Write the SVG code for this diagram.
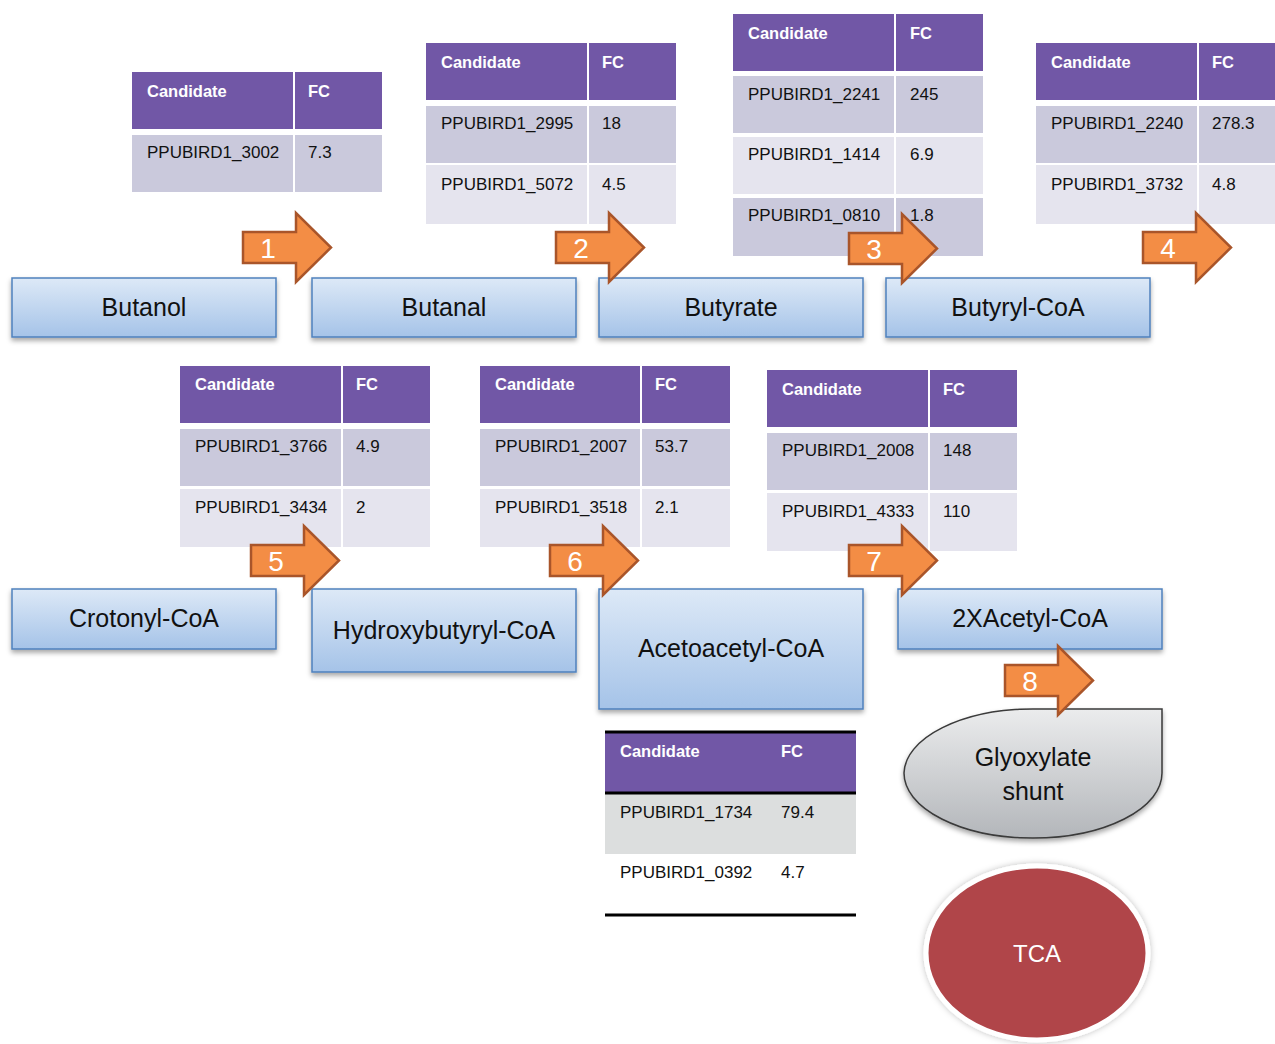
<svg xmlns="http://www.w3.org/2000/svg" width="1275" height="1044" viewBox="0 0 1275 1044">
<defs>
<linearGradient id="blue" x1="0" y1="0" x2="0" y2="1"><stop offset="0" stop-color="#DDE9F7"/><stop offset="1" stop-color="#A5C3E8"/></linearGradient>
<linearGradient id="gray" x1="0" y1="0" x2="0" y2="1"><stop offset="0" stop-color="#EBECED"/><stop offset="1" stop-color="#B3B6BA"/></linearGradient>
<filter id="sh" x="-10%" y="-10%" width="120%" height="140%"><feDropShadow dx="0" dy="3" stdDeviation="2.5" flood-color="#000" flood-opacity="0.35"/></filter>
<filter id="glow" x="-10%" y="-10%" width="120%" height="120%"><feDropShadow dx="0" dy="0" stdDeviation="3" flood-color="#000" flood-opacity="0.25"/></filter>
<path id="arr" d="M0 19 H53 V0 L88 34.5 L53 69 V50 H0 Z"/>
</defs>
<style>
.hd{fill:#7157A6}
.r1{fill:#CAC9DC}
.r2{fill:#E5E4EE}
.th{font-family:"Liberation Sans",Arial,sans-serif;font-size:16.5px;font-weight:bold;fill:#FFFFFF}
.td{font-family:"Liberation Sans",Arial,sans-serif;font-size:17px;fill:#111111}
.box{fill:url(#blue);stroke:#4F81BD;stroke-width:1.5;filter:url(#sh)}
.lbl{font-family:"Liberation Sans",Arial,sans-serif;font-size:25px;fill:#111111;text-anchor:middle}
.ar{fill:#F38D45;stroke:#A9552A;stroke-width:2.5;stroke-linejoin:miter}
.num{font-family:"Liberation Sans",Arial,sans-serif;font-size:28px;fill:#FFFFFF;text-anchor:middle}
</style>
<rect width="1275" height="1044" fill="#FFFFFF"/>

<g id="table1">
<rect class="hd" x="132" y="72" width="161" height="57"/><rect class="hd" x="295" y="72" width="87" height="57"/>
<rect class="r1" x="132" y="135" width="161" height="57"/><rect class="r1" x="295" y="135" width="87" height="57"/>
<text class="th" x="147" y="97">Candidate</text><text class="th" x="308" y="97">FC</text>
<text class="td" x="147" y="158">PPUBIRD1_3002</text><text class="td" x="308" y="158">7.3</text>
</g>

<g id="table2">
<rect class="hd" x="426" y="43" width="161" height="57"/><rect class="hd" x="589" y="43" width="87" height="57"/>
<rect class="r1" x="426" y="106" width="161" height="57"/><rect class="r1" x="589" y="106" width="87" height="57"/>
<rect class="r2" x="426" y="165" width="161" height="59"/><rect class="r2" x="589" y="165" width="87" height="59"/>
<text class="th" x="441" y="68">Candidate</text><text class="th" x="602" y="68">FC</text>
<text class="td" x="441" y="129">PPUBIRD1_2995</text><text class="td" x="602" y="129">18</text>
<text class="td" x="441" y="190">PPUBIRD1_5072</text><text class="td" x="602" y="190">4.5</text>
</g>

<g id="table3">
<rect class="hd" x="733" y="14" width="161" height="57"/><rect class="hd" x="896" y="14" width="87" height="57"/>
<rect class="r1" x="733" y="76" width="161" height="57"/><rect class="r1" x="896" y="76" width="87" height="57"/>
<rect class="r2" x="733" y="137" width="161" height="57"/><rect class="r2" x="896" y="137" width="87" height="57"/>
<rect class="r1" x="733" y="198" width="161" height="58"/><rect class="r1" x="896" y="198" width="87" height="58"/>
<text class="th" x="748" y="39">Candidate</text><text class="th" x="910" y="39">FC</text>
<text class="td" x="748" y="100">PPUBIRD1_2241</text><text class="td" x="910" y="100">245</text>
<text class="td" x="748" y="160">PPUBIRD1_1414</text><text class="td" x="910" y="160">6.9</text>
<text class="td" x="748" y="221">PPUBIRD1_0810</text><text class="td" x="910" y="221">1.8</text>
</g>

<g id="table4">
<rect class="hd" x="1036" y="43" width="161" height="57"/><rect class="hd" x="1199" y="43" width="76" height="57"/>
<rect class="r1" x="1036" y="106" width="161" height="57"/><rect class="r1" x="1199" y="106" width="76" height="57"/>
<rect class="r2" x="1036" y="165" width="161" height="59"/><rect class="r2" x="1199" y="165" width="76" height="59"/>
<text class="th" x="1051" y="68">Candidate</text><text class="th" x="1212" y="68">FC</text>
<text class="td" x="1051" y="129">PPUBIRD1_2240</text><text class="td" x="1212" y="129">278.3</text>
<text class="td" x="1051" y="190">PPUBIRD1_3732</text><text class="td" x="1212" y="190">4.8</text>
</g>

<g id="table5">
<rect class="hd" x="180" y="366" width="161" height="57"/><rect class="hd" x="343" y="366" width="87" height="57"/>
<rect class="r1" x="180" y="429" width="161" height="57"/><rect class="r1" x="343" y="429" width="87" height="57"/>
<rect class="r2" x="180" y="489" width="161" height="58"/><rect class="r2" x="343" y="489" width="87" height="58"/>
<text class="th" x="195" y="390">Candidate</text><text class="th" x="356" y="390">FC</text>
<text class="td" x="195" y="452">PPUBIRD1_3766</text><text class="td" x="356" y="452">4.9</text>
<text class="td" x="195" y="513">PPUBIRD1_3434</text><text class="td" x="356" y="513">2</text>
</g>

<g id="table6">
<rect class="hd" x="480" y="366" width="160" height="57"/><rect class="hd" x="642" y="366" width="88" height="57"/>
<rect class="r1" x="480" y="429" width="160" height="57"/><rect class="r1" x="642" y="429" width="88" height="57"/>
<rect class="r2" x="480" y="489" width="160" height="58"/><rect class="r2" x="642" y="489" width="88" height="58"/>
<text class="th" x="495" y="390">Candidate</text><text class="th" x="655" y="390">FC</text>
<text class="td" x="495" y="452">PPUBIRD1_2007</text><text class="td" x="655" y="452">53.7</text>
<text class="td" x="495" y="513">PPUBIRD1_3518</text><text class="td" x="655" y="513">2.1</text>
</g>

<g id="table7">
<rect class="hd" x="767" y="370" width="161" height="57"/><rect class="hd" x="930" y="370" width="87" height="57"/>
<rect class="r1" x="767" y="433" width="161" height="57"/><rect class="r1" x="930" y="433" width="87" height="57"/>
<rect class="r2" x="767" y="493" width="161" height="58"/><rect class="r2" x="930" y="493" width="87" height="58"/>
<text class="th" x="782" y="395">Candidate</text><text class="th" x="943" y="395">FC</text>
<text class="td" x="782" y="456">PPUBIRD1_2008</text><text class="td" x="943" y="456">148</text>
<text class="td" x="782" y="517">PPUBIRD1_4333</text><text class="td" x="943" y="517">110</text>
</g>

<g id="table8">
<rect class="hd" x="605" y="732" width="251" height="61"/>
<rect fill="#DCDEDE" x="605" y="794" width="251" height="60"/>
<line x1="605" y1="732" x2="856" y2="732" stroke="#000" stroke-width="3"/>
<line x1="605" y1="793" x2="856" y2="793" stroke="#000" stroke-width="3"/>
<line x1="605" y1="915" x2="856" y2="915" stroke="#000" stroke-width="3"/>
<text class="th" x="620" y="757">Candidate</text><text class="th" x="781" y="757">FC</text>
<text class="td" x="620" y="818">PPUBIRD1_1734</text><text class="td" x="781" y="818">79.4</text>
<text class="td" x="620" y="878">PPUBIRD1_0392</text><text class="td" x="781" y="878">4.7</text>
</g>

<g id="butanol"><rect class="box" x="12" y="278" width="264" height="59"/><text class="lbl" x="144" y="316">Butanol</text></g>
<g id="butanal"><rect class="box" x="312" y="278" width="264" height="59"/><text class="lbl" x="444" y="316">Butanal</text></g>
<g id="butyrate"><rect class="box" x="599" y="278" width="264" height="59"/><text class="lbl" x="731" y="316">Butyrate</text></g>
<g id="butyryl-coa"><rect class="box" x="886" y="278" width="264" height="59"/><text class="lbl" x="1018" y="316">Butyryl-CoA</text></g>

<g id="crotonyl-coa"><rect class="box" x="12" y="589" width="264" height="60"/><text class="lbl" x="144" y="627">Crotonyl-CoA</text></g>
<g id="hydroxybutyryl-coa"><rect class="box" x="312" y="589" width="264" height="83"/><text class="lbl" x="444" y="639">Hydroxybutyryl-CoA</text></g>
<g id="acetoacetyl-coa"><rect class="box" x="599" y="589" width="264" height="120"/><text class="lbl" x="731" y="657">Acetoacetyl-CoA</text></g>
<g id="acetyl-coa"><rect class="box" x="898" y="589" width="264" height="60"/><text class="lbl" x="1030" y="627">2XAcetyl-CoA</text></g>

<g id="glyoxylate">
<path d="M1162 709 L1162 773 A129 65 0 0 1 1033 838 A129 65 0 0 1 904 773 A129 65 0 0 1 1033 709 Z" fill="url(#gray)" stroke="#3A3A3A" stroke-width="1.5" filter="url(#sh)"/>
<text class="lbl" x="1033" y="766">Glyoxylate</text>
<text class="lbl" x="1033" y="800">shunt</text>
</g>

<g id="tca">
<ellipse cx="1037" cy="953" rx="111" ry="87" fill="#B0454A" stroke="#FFFFFF" stroke-width="5" filter="url(#glow)"/>
<text x="1037" y="962" font-family="Liberation Sans,Arial,sans-serif" font-size="24" fill="#FFFFFF" text-anchor="middle">TCA</text>
</g>

<g id="connectors">
<use href="#arr" class="ar" x="243" y="213"/><text class="num" x="268" y="258">1</text>
<use href="#arr" class="ar" x="556" y="213"/><text class="num" x="581" y="258">2</text>
<use href="#arr" class="ar" x="849" y="214"/><text class="num" x="874" y="259">3</text>
<use href="#arr" class="ar" x="1143" y="213"/><text class="num" x="1168" y="258">4</text>
<use href="#arr" class="ar" x="251" y="526"/><text class="num" x="276" y="571">5</text>
<use href="#arr" class="ar" x="550" y="526"/><text class="num" x="575" y="571">6</text>
<use href="#arr" class="ar" x="849" y="526"/><text class="num" x="874" y="571">7</text>
<use href="#arr" class="ar" x="1005" y="646"/><text class="num" x="1030" y="691">8</text>
</g>
</svg>
